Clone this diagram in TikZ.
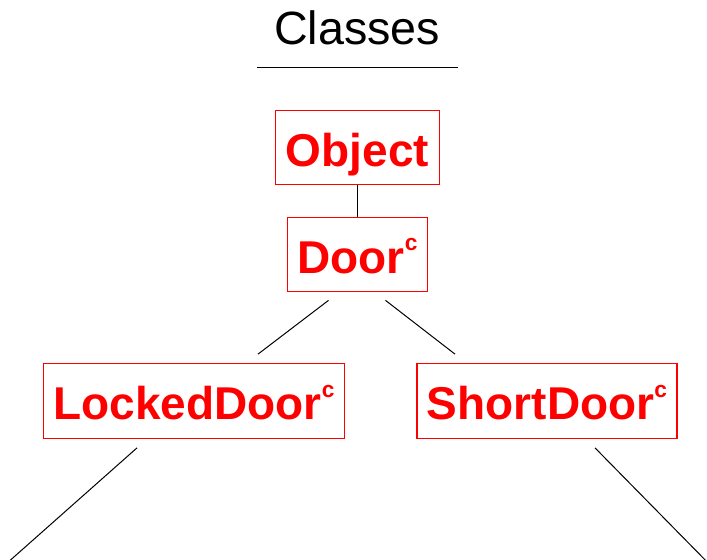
\documentclass[tikz,border=0pt]{standalone}
\usepackage{fontspec}
\setmainfont{Liberation Sans}
\usetikzlibrary{calc}
\definecolor{classred}{RGB}{255,0,0}
\newcommand{\cmark}{\raisebox{17pt}{\fontsize{17}{17}\selectfont\bfseries c}}
\tikzset{
  classbox/.style={draw=classred, line width=0.8pt, text=classred,
    font=\fontsize{34.5}{40}\selectfont\bfseries,
    inner xsep=7.5pt, inner ysep=0pt, text height=42pt, text depth=14pt},
  edge/.style={draw=black, line width=0.75pt}
}
\begin{document}
\begin{tikzpicture}[x=0.75pt, y=-0.75pt]
  \useasboundingbox (0,0) rectangle (707,560);
  \clip (0,0) rectangle (707,560);

  % title and rule
  \node[anchor=base, font=\fontsize{35}{40}\selectfont] (title) at (357,45) {Classes};
  \coordinate (ruleL) at (257,68);
  \coordinate (ruleR) at (458,68);
  \draw[line width=0.75pt] (ruleL) -- (ruleR);

  % class hierarchy
  \node[classbox] (object) at (357.5,147.5) {Object};
  \node[classbox] (door)   at (357.5,254.5) {Door\cmark};
  \node[classbox] (locked) at (194,401)     {LockedDoor\cmark};
  \node[classbox] (short)  at (547,401)     {ShortDoor\cmark};

  % subclasses continuing below
  \coordinate (lockedsub) at (-3,572);
  \coordinate (shortsub)  at (717,572);

  \draw[edge] (object.south) -- (door.north);
  \draw[edge] ($(door.south)+(-29,8)$) -- ($(locked.north)+(64,-9)$);
  \draw[edge] ($(door.south)+(28,8)$) -- ($(short.north)+(-92,-9)$);
  \draw[edge] ($(locked.south)+(-57,9)$) -- (lockedsub);
  \draw[edge] ($(short.south)+(48,9)$) -- (shortsub);
\end{tikzpicture}
\end{document}
